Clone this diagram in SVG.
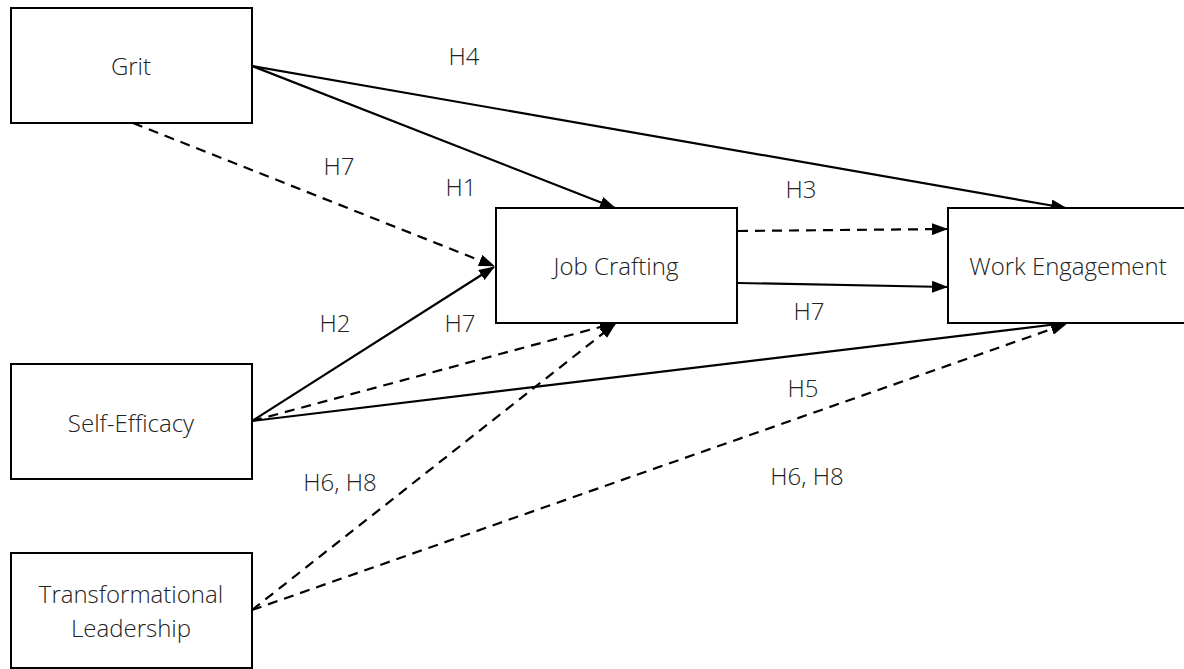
<svg xmlns="http://www.w3.org/2000/svg" width="1184" height="669" viewBox="0 0 1184 669">
<style>
.box{fill:#fff;stroke:#000;stroke-width:2}
.t{font-family:"Open Sans","Liberation Sans",sans-serif;font-weight:300;font-size:24px;fill:#222;text-anchor:middle}
.c{fill:none;stroke:#000;stroke-width:2.2}
.d{stroke-dasharray:10,7}
</style>
<defs>
<marker id="ah" markerWidth="16" markerHeight="12" refX="15" refY="6" orient="auto" markerUnits="userSpaceOnUse">
<path d="M0,0 L16,6 L0,12 Z" fill="#000"/>
</marker>
</defs>
<rect width="1184" height="669" fill="#fff"/>
<g id="connectors">
<line class="c" x1="252" y1="66" x2="1066" y2="208" marker-end="url(#ah)"/>
<line class="c" x1="252" y1="66" x2="615" y2="208" marker-end="url(#ah)"/>
<line class="c d" x1="133" y1="123" x2="494" y2="266" marker-end="url(#ah)"/>
<line class="c d" x1="738" y1="231" x2="947" y2="229" marker-end="url(#ah)"/>
<line class="c" x1="738" y1="283" x2="947" y2="287" marker-end="url(#ah)"/>
<line class="c" x1="252" y1="421" x2="494" y2="267" marker-end="url(#ah)"/>
<line class="c d" x1="252" y1="421" x2="615" y2="323" marker-end="url(#ah)"/>
<line class="c" x1="252" y1="421" x2="1066" y2="323" marker-end="url(#ah)"/>
<line class="c d" x1="252" y1="610" x2="615" y2="324" marker-end="url(#ah)"/>
<line class="c d" x1="252" y1="610" x2="1066" y2="324" marker-end="url(#ah)"/>
</g>
<g id="grit"><rect class="box" x="11" y="8" width="241" height="115"/><text class="t" x="131" y="75">Grit</text></g>
<g id="jobcrafting"><rect class="box" x="496" y="208" width="241" height="115"/><text class="t" x="616" y="275">Job Crafting</text></g>
<g id="workengagement"><rect class="box" x="948" y="208" width="241" height="115"/><text class="t" x="1068" y="275">Work Engagement</text></g>
<g id="selfefficacy"><rect class="box" x="11" y="364" width="241" height="115"/><text class="t" x="131" y="432">Self-Efficacy</text></g>
<g id="transformational"><rect class="box" x="11" y="553" width="241" height="115"/><text class="t" x="131" y="603">Transformational</text><text class="t" x="131" y="637">Leadership</text></g>
<g id="labels">
<text class="t" x="464" y="65">H4</text>
<text class="t" x="339" y="175">H7</text>
<text class="t" x="461" y="196">H1</text>
<text class="t" x="801" y="198">H3</text>
<text class="t" x="335" y="332">H2</text>
<text class="t" x="460" y="332">H7</text>
<text class="t" x="809" y="320">H7</text>
<text class="t" x="803" y="397">H5</text>
<text class="t" x="340" y="491">H6, H8</text>
<text class="t" x="807" y="485">H6, H8</text>
</g>
</svg>
